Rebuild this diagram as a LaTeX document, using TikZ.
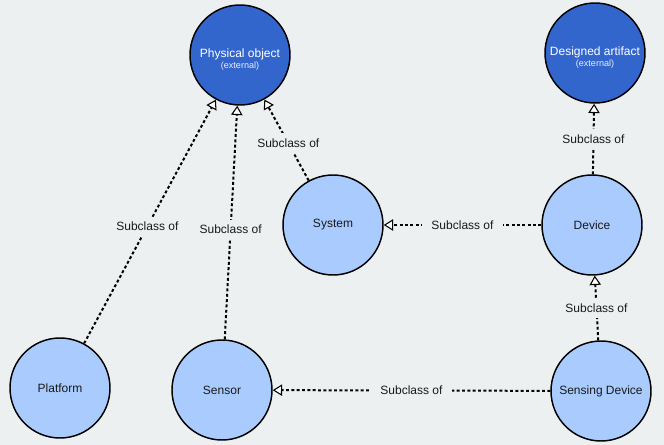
\documentclass[tikz,border=0pt]{standalone}
\usepackage{fontspec}
\setmainfont{Liberation Sans}
\usetikzlibrary{arrows.meta}
\definecolor{Canvas}{HTML}{ECF0F1}
\definecolor{ExtBlue}{HTML}{3366CC}
\definecolor{ClassBlue}{HTML}{A9CBFE}
\definecolor{Ink}{HTML}{1A1A1A}
\tikzset{
  extclass/.style={circle, draw=black, line width=1.1pt, fill=ExtBlue, minimum size=75pt,
    inner sep=0pt, text=white, align=center, font=\fontsize{9}{10}\selectfont},
  ownclass/.style={circle, draw=black, line width=1.1pt, fill=ClassBlue, minimum size=75pt,
    inner sep=0pt, text=Ink, font=\fontsize{9}{10}\selectfont},
  subclass/.style={-{Triangle[open, length=7pt, width=8.5pt, line width=0.8pt, fill=white]},
    line width=1.5pt, dash pattern=on 2.2pt off 1.8pt, color=black},
  edgelabel/.style={fill=Canvas, text=Ink, inner xsep=7pt, inner ysep=4pt,
    font=\fontsize{9}{10}\selectfont},
}
% name on the centre line, note below it
\newcommand{\extname}[2]{\rule{0pt}{13pt}#1\\[-2pt]{\fontsize{6.8}{7}\selectfont\color{white!88!ExtBlue}#2}}

\begin{document}
\begin{tikzpicture}[x=0.75pt, y=-0.75pt]
  % canvas
  \fill[Canvas] (0,0) rectangle (664,445);

  % external classes
  \node[extclass] (physical) at (240,55) {\extname{Physical object}{(external)}};
  \node[extclass] (designed) at (595,53) {\extname{Designed artifact}{(external)}};

  % own classes
  \node[ownclass] (system) at (333,225) {System};
  \node[ownclass] (device) at (592,225) {Device};
  \node[ownclass] (platform) at (60,388) {Platform};
  \node[ownclass] (sensor) at (222,390) {Sensor};
  \node[ownclass] (sensing) at (601,391) {Sensing Device};

  % subclass relations
  \draw[subclass] (platform) -- node[edgelabel, pos=0.48] {Subclass of} (physical);
  \draw[subclass] (sensor) -- node[edgelabel, pos=0.47] {Subclass of} (physical);
  \draw[subclass] (system) -- node[edgelabel, pos=0.46] {Subclass of} (physical);
  \draw[subclass] (device) -- node[edgelabel] {Subclass of} (system);
  \draw[subclass] (device) -- node[edgelabel] {Subclass of} (designed);
  \draw[subclass] (sensing) -- node[edgelabel] {Subclass of} (device);
  \draw[subclass] (sensing) -- node[edgelabel] {Subclass of} (sensor);
\end{tikzpicture}
\end{document}
